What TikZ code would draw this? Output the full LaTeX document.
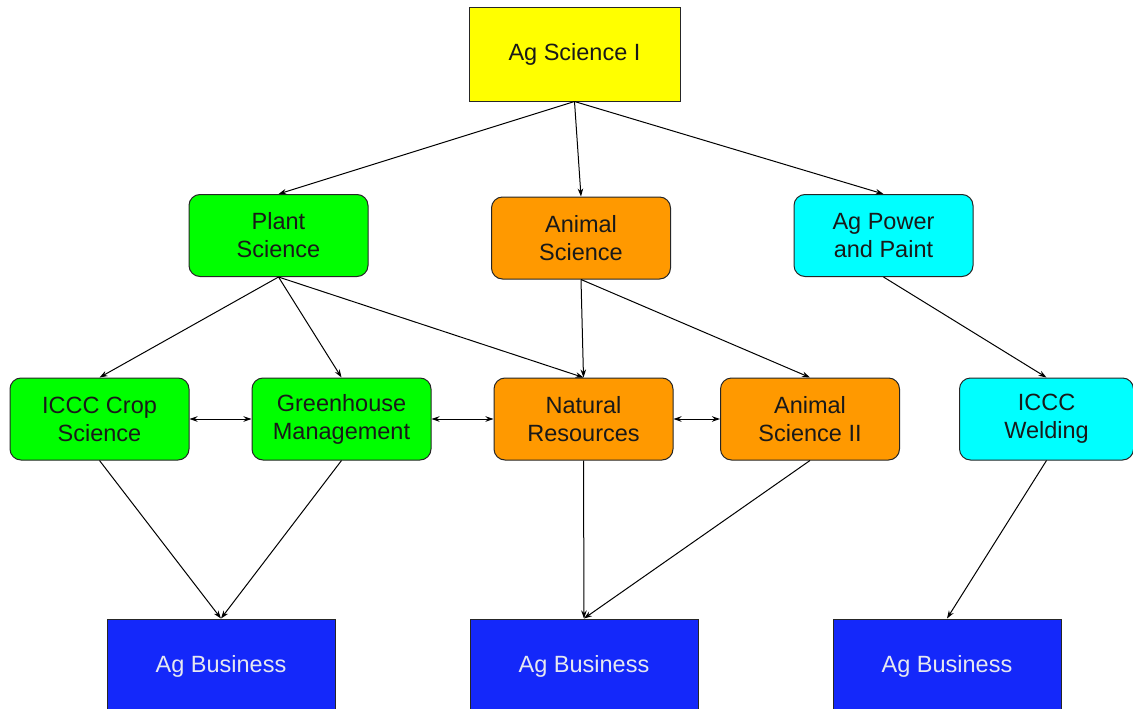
\documentclass[tikz,border=0pt]{standalone}
\usepackage{fontspec}
\setmainfont{Liberation Sans}
\usepackage{xcolor}
\usetikzlibrary{shapes, arrows.meta, calc, positioning}

\definecolor{agyellow}{RGB}{255,255,0}
\definecolor{aggreen}{RGB}{0,255,0}
\definecolor{agorange}{RGB}{255,153,0}
\definecolor{agcyan}{RGB}{0,255,255}
\definecolor{agblue}{RGB}{20,40,250}
\definecolor{agtext}{RGB}{230,232,240}

\begin{document}
\begin{tikzpicture}[
    x=1pt, y=-1pt,
    font=\fontsize{23.5}{28}\selectfont,
    line width=1pt,
    >={Stealth[length=8pt,width=5.5pt]}
]
    % Styles for blocks
    \tikzstyle{course} = [draw=black!85, rectangle, rounded corners=11pt, minimum width=179pt, minimum height=82pt, align=center, text=black!90]
    \tikzstyle{topbox} = [draw=black!85, rectangle, minimum width=211pt, minimum height=93pt, align=center, fill=agyellow, text=black!90]
    \tikzstyle{endbox} = [draw=black!85, rectangle, minimum width=228pt, minimum height=94pt, align=center, fill=agblue, text=agtext]

    % Page frame
    \useasboundingbox (0,0) rectangle (1133,709);

    % Components

    % Top
    \node [topbox] (AgSci) at (574.5, 54.5) {Ag Science I};

    % Second row
    \node [course, fill=aggreen] (PlantSci) at (278.5, 235.5) {Plant\\Science};
    \node [course, fill=agorange] (AnimalSci) at (581, 238) {Animal\\Science};
    \node [course, fill=agcyan] (AgPower) at (883.5, 235.5) {Ag Power\\and Paint};

    % Third row
    \node [course, fill=aggreen] (CropSci) at (99.5, 419) {ICCC Crop\\Science};
    \node [course, fill=aggreen] (Greenhouse) at (341.5, 419) {Greenhouse\\Management};
    \node [course, fill=agorange] (NatRes) at (583.5, 419) {Natural\\Resources};
    \node [course, fill=agorange] (AnimalSciII) at (810, 419) {Animal\\Science II};
    \node [course, fill=agcyan, minimum width=174pt] (Welding) at (1046.5, 419) {ICCC\\Welding};

    % Bottom
    \node [endbox] (BusA) at (221, 666) {Ag Business};
    \node [endbox] (BusB) at (584, 666) {Ag Business};
    \node [endbox] (BusC) at (947, 666) {Ag Business};

    % Connections

    % 1. From Ag Science I
    \draw [->] (AgSci.south) -- (PlantSci.north);
    \draw [->] (AgSci.south) -- (AnimalSci.north);
    \draw [->] (AgSci.south) -- (AgPower.north);

    % 2. Second row -> third row
    \draw [->] (PlantSci.south) -- (CropSci.north);
    \draw [->] (PlantSci.south) -- (Greenhouse.north);
    \draw [->] (PlantSci.south) -- (NatRes.north);
    \draw [->] (AnimalSci.south) -- (NatRes.north);
    \draw [->] (AnimalSci.south) -- (AnimalSciII.north);
    \draw [->] (AgPower.south) -- (Welding.north);

    % 3. Links within the third row
    \draw [<->] (CropSci.east) -- (Greenhouse.west);
    \draw [<->] (Greenhouse.east) -- (NatRes.west);
    \draw [<->] (NatRes.east) -- (AnimalSciII.west);

    % 4. To Ag Business
    \draw [->] (CropSci.south) -- (BusA.north);
    \draw [->] (Greenhouse.south) -- (BusA.north);
    \draw [->] (NatRes.south) -- (BusB.north);
    \draw [->] (AnimalSciII.south) -- (BusB.north);
    \draw [->] (Welding.south) -- (BusC.north);

\end{tikzpicture}
\end{document}
